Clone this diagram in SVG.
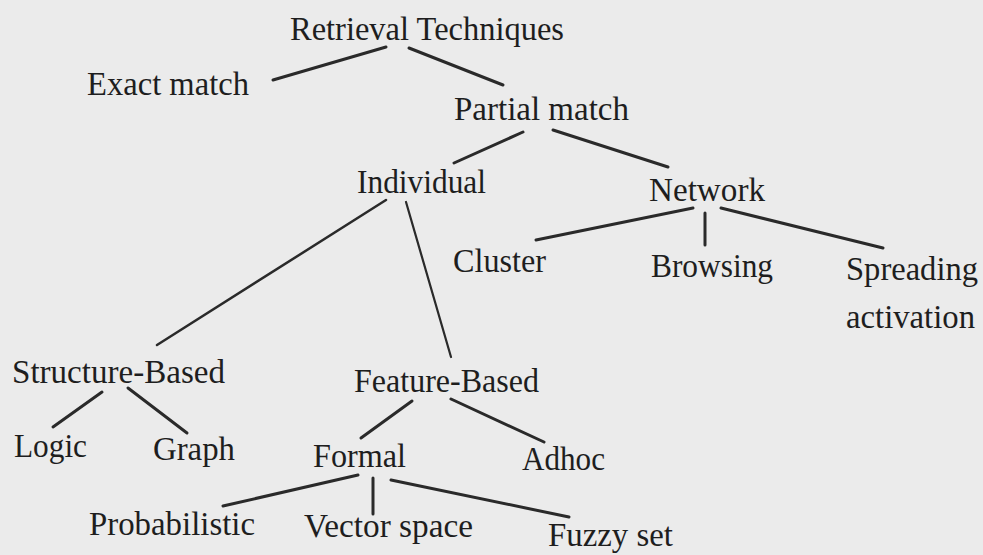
<svg xmlns="http://www.w3.org/2000/svg" width="983" height="555" viewBox="0 0 983 555">
<style>
text{font-family:"Liberation Serif","Times New Roman",serif;font-size:33px;fill:#1e1e1e}
.e line{stroke:#2a2a2a;stroke-width:3;stroke-linecap:round}
</style>
<rect width="983" height="555" fill="#ebebeb"/>
<g class="e" id="connectors">
<line x1="386" y1="47" x2="273" y2="80"/>
<line x1="409" y1="48" x2="503" y2="85"/>
<line x1="523" y1="132" x2="454" y2="163"/>
<line x1="553" y1="130" x2="668" y2="167"/>
<line x1="386" y1="200" x2="157" y2="345" style="stroke-width:2.5"/>
<line x1="406" y1="202" x2="451" y2="357" style="stroke-width:2.2"/>
<line x1="693" y1="208" x2="536" y2="240"/>
<line x1="705" y1="213" x2="705" y2="245"/>
<line x1="721" y1="208" x2="883" y2="248"/>
<line x1="102" y1="392" x2="53" y2="427"/>
<line x1="128" y1="388" x2="187" y2="433"/>
<line x1="412" y1="401" x2="361" y2="438"/>
<line x1="451" y1="399" x2="544" y2="442"/>
<line x1="358" y1="475" x2="223" y2="506"/>
<line x1="373" y1="478" x2="373" y2="514"/>
<line x1="391" y1="480" x2="569" y2="517"/>
</g>
<g id="n-root"><text x="290" y="40" textLength="274" lengthAdjust="spacingAndGlyphs">Retrieval Techniques</text></g>
<g id="n-exact"><text x="87" y="95" textLength="162" lengthAdjust="spacingAndGlyphs">Exact match</text></g>
<g id="n-partial"><text x="454" y="120" textLength="175" lengthAdjust="spacingAndGlyphs">Partial match</text></g>
<g id="n-individual"><text x="357" y="193" textLength="129" lengthAdjust="spacingAndGlyphs">Individual</text></g>
<g id="n-network"><text x="649" y="201" textLength="116" lengthAdjust="spacingAndGlyphs">Network</text></g>
<g id="n-cluster"><text x="453" y="272" textLength="93" lengthAdjust="spacingAndGlyphs">Cluster</text></g>
<g id="n-browsing"><text x="651" y="277" textLength="122" lengthAdjust="spacingAndGlyphs">Browsing</text></g>
<g id="n-spreading"><text x="846" y="280" textLength="132" lengthAdjust="spacingAndGlyphs">Spreading</text><text x="846" y="328" textLength="129" lengthAdjust="spacingAndGlyphs">activation</text></g>
<g id="n-structure"><text x="12" y="383" textLength="213" lengthAdjust="spacingAndGlyphs">Structure-Based</text></g>
<g id="n-feature"><text x="354" y="392" textLength="185" lengthAdjust="spacingAndGlyphs">Feature-Based</text></g>
<g id="n-logic"><text x="14" y="457" textLength="73" lengthAdjust="spacingAndGlyphs">Logic</text></g>
<g id="n-graph"><text x="153" y="460" textLength="82" lengthAdjust="spacingAndGlyphs">Graph</text></g>
<g id="n-formal"><text x="313" y="467" textLength="93" lengthAdjust="spacingAndGlyphs">Formal</text></g>
<g id="n-adhoc"><text x="522" y="470" textLength="83" lengthAdjust="spacingAndGlyphs">Adhoc</text></g>
<g id="n-prob"><text x="89" y="535" textLength="166" lengthAdjust="spacingAndGlyphs">Probabilistic</text></g>
<g id="n-vector"><text x="304" y="537" textLength="169" lengthAdjust="spacingAndGlyphs">Vector space</text></g>
<g id="n-fuzzy"><text x="548" y="546" textLength="125" lengthAdjust="spacingAndGlyphs">Fuzzy set</text></g>
</svg>
